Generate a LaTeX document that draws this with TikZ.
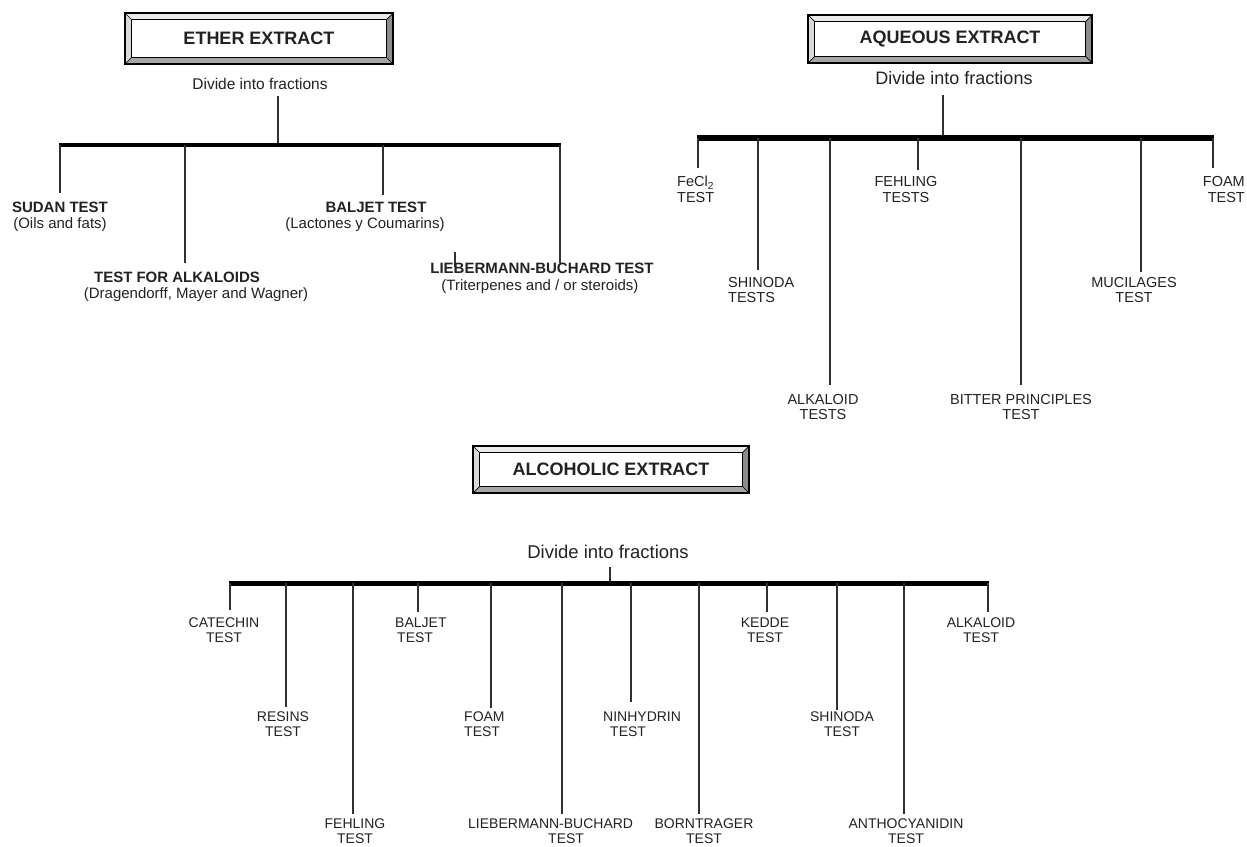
\documentclass[tikz,border=0pt]{standalone}
\usepackage{fontspec}
\setmainfont{Liberation Sans}
\definecolor{ink}{HTML}{222222}
\definecolor{lnc}{HTML}{303030}
\newcommand\mybevel[1]{%
  \fill[black!8] (#1.north west) -- (#1.north east) -- ([shift={(-7,7)}]#1.north east) -- ([shift={(7,7)}]#1.north west) -- cycle;
  \fill[black!15] (#1.north west) -- ([shift={(7,7)}]#1.north west) -- ([shift={(7,-7)}]#1.south west) -- (#1.south west) -- cycle;
  \fill[black!35] (#1.south west) -- ([shift={(7,-7)}]#1.south west) -- ([shift={(-7,-7)}]#1.south east) -- (#1.south east) -- cycle;
  \fill[black!45] (#1.north east) -- (#1.south east) -- ([shift={(-7,-7)}]#1.south east) -- ([shift={(-7,7)}]#1.north east) -- cycle;
  \draw[line width=1.6pt] (#1.north west) rectangle (#1.south east);
  \draw[line width=1.3pt] ([shift={(7,7)}]#1.north west) rectangle ([shift={(-7,-7)}]#1.south east);
  \draw[line width=0.7pt] (#1.north west) -- ([shift={(7,7)}]#1.north west)
     (#1.north east) -- ([shift={(-7,7)}]#1.north east)
     (#1.south west) -- ([shift={(7,-7)}]#1.south west)
     (#1.south east) -- ([shift={(-7,-7)}]#1.south east);
}
\begin{document}
\begin{tikzpicture}[x=1pt,y=-1pt,
  extbox/.style={inner sep=0pt, text=ink, font=\bfseries\fontsize{18}{20}\selectfont},
  divtxt/.style={inner sep=0pt, text=ink},
  conn/.style={draw=lnc, line width=1.3pt},
  ehead/.style={inner sep=0pt, text=ink, font=\bfseries\fontsize{15}{17}\selectfont},
  esub/.style={inner sep=0pt, text=ink, font=\fontsize{15}{17}\selectfont},
  albl/.style={inner sep=0pt, text=ink, align=center, font=\fontsize{14.5}{15.5}\selectfont},
  clbl/.style={inner sep=0pt, text=ink, align=center, font=\fontsize{14}{15}\selectfont}]
\useasboundingbox (0,0) rectangle (1247,846);
\fill[white] (0,0) rectangle (1247,846);

% ================= ETHER EXTRACT =================
\node[extbox, minimum width=268pt, minimum height=51pt] (ether) at (259,38.5) {ETHER EXTRACT};
\mybevel{ether}
\node[divtxt, font=\fontsize{15.5}{17}\selectfont] (ediv) at (260,84) {Divide into fractions};
\coordinate (e0) at (278,96);
\coordinate (eb) at (278,145);
\coordinate (ebl) at (59.4,145);
\coordinate (ebr) at (560.6,145);
\draw[conn] (e0) -- (eb);
\draw[black, line width=4.5pt] (ebl) -- (ebr);
\coordinate (e1) at (60,193);
\coordinate (e2) at (185,263);
\coordinate (e3) at (383,195);
\coordinate (e4) at (560,263);
\foreach \p in {e1,e2,e3,e4} \draw[conn] (eb -| \p) -- (\p);
\coordinate (et1) at (455,252);
\coordinate (et2) at (455,267);
\draw[conn] (et1) -- (et2);
\node[ehead] (sudan) at (60,207) {SUDAN TEST};
\node[esub] (sudans) at (60,225) {(Oils and fats)};
\node[ehead] (talk) at (177,277) {TEST FOR ALKALOIDS};
\node[esub] (talks) at (196,295) {(Dragendorff, Mayer and Wagner)};
\node[ehead] (balj) at (376,207) {BALJET TEST};
\node[esub] (baljs) at (365,225) {(Lactones y Coumarins)};
\node[ehead] (lieb) at (542,268) {LIEBERMANN-BUCHARD TEST};
\node[esub] (liebs) at (540,287) {(Triterpenes and / or steroids)};

% ================= AQUEOUS EXTRACT =================
\node[extbox, minimum width=284pt, minimum height=48pt] (aq) at (950,39) {AQUEOUS EXTRACT};
\mybevel{aq}
\node[divtxt, font=\fontsize{18}{20}\selectfont] (adiv) at (954,78) {Divide into fractions};
\coordinate (a0) at (943,95);
\coordinate (ab) at (943,138);
\coordinate (abl) at (697.4,138);
\coordinate (abr) at (1213.6,138);
\draw[conn] (a0) -- (ab);
\draw[black, line width=6pt] (abl) -- (abr);
\coordinate (a1) at (698,168);
\coordinate (a2) at (758,270);
\coordinate (a3) at (830,385);
\coordinate (a4) at (918,170);
\coordinate (a5) at (1021,385);
\coordinate (a6) at (1141,272);
\coordinate (a7) at (1213,168);
\foreach \p in {a1,a2,a3,a4,a5,a6,a7} \draw[conn] (ab -| \p) -- (\p);
\node[albl, align=left, anchor=west] (fecl) at (677,189.5) {FeCl\textsubscript{2}\\TEST};
\node[albl, align=left, anchor=west] (ashin) at (728,290) {SHINODA\\TESTS};
\node[albl] (afeh) at (906,189.5) {FEHLING\\TESTS};
\node[albl] (aalk) at (823,407) {ALKALOID\\TESTS};
\node[albl] (abit) at (1021,407) {BITTER PRINCIPLES\\TEST};
\node[albl] (amuc) at (1134,290) {MUCILAGES\\TEST};
\node[albl, align=right, anchor=east] (afoam) at (1245,189.5) {FOAM\\TEST};

% ================= ALCOHOLIC EXTRACT =================
\node[extbox, minimum width=276pt, minimum height=47pt] (alc) at (611,469.5) {ALCOHOLIC EXTRACT};
\mybevel{alc}
\node[divtxt, font=\fontsize{18.5}{20}\selectfont] (cdiv) at (608,552) {Divide into fractions};
\coordinate (c0) at (610,567);
\coordinate (cb) at (610,583);
\coordinate (cbl) at (229.4,583);
\coordinate (cbr) at (988.6,583);
\draw[conn] (c0) -- (cb);
\draw[black, line width=5pt] (cbl) -- (cbr);
\coordinate (c1) at (230,610);
\coordinate (c2) at (286,707);
\coordinate (c3) at (353,814);
\coordinate (c4) at (418,612);
\coordinate (c5) at (491,708);
\coordinate (c6) at (562,814);
\coordinate (c7) at (631,702);
\coordinate (c8) at (699,814);
\coordinate (c9) at (767,612);
\coordinate (c10) at (837,710);
\coordinate (c11) at (904,814);
\coordinate (c12) at (988,612);
\foreach \p in {c1,c2,c3,c4,c5,c6,c7,c8,c9,c10,c11,c12} \draw[conn] (cb -| \p) -- (\p);
\node[clbl] (ccat) at (224,630) {CATECHIN\\TEST};
\node[clbl] (cres) at (283,724.5) {RESINS\\TEST};
\node[clbl] (cfeh) at (355,831) {FEHLING\\TEST};
\node[clbl, align=left, anchor=west] (cbal) at (395,630) {BALJET\\\hspace*{2pt}TEST};
\node[clbl, align=left, anchor=west] (cfoam) at (464,724.5) {FOAM\\TEST};
\node[clbl, align=left, anchor=west] (clieb) at (468,831) {LIEBERMANN-BUCHARD\\\hspace*{80pt}TEST};
\node[clbl, align=left, anchor=west] (cnin) at (603,724.5) {NINHYDRIN\\\hspace*{7pt}TEST};
\node[clbl] (cborn) at (704,831) {BORNTRAGER\\TEST};
\node[clbl] (cked) at (765,630) {KEDDE\\TEST};
\node[clbl] (cshin) at (842,724.5) {SHINODA\\TEST};
\node[clbl] (canth) at (906,831) {ANTHOCYANIDIN\\TEST};
\node[clbl] (calk) at (981,630) {ALKALOID\\TEST};
\end{tikzpicture}
\end{document}
